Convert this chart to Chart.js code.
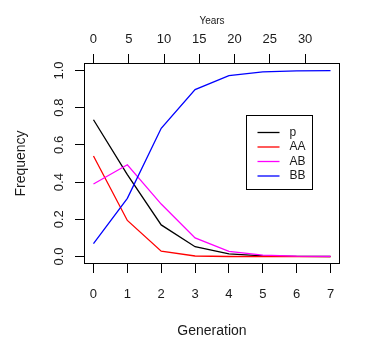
<!DOCTYPE html>
<html>
<head>
<meta charset="utf-8">
<script src="https://cdn.jsdelivr.net/npm/chart.js@4/dist/chart.umd.min.js"></script>
<style>
  html, body { margin: 0; padding: 0; background: #ffffff; }
  #wrap { width: 368px; height: 357px; position: relative; }
</style>
</head>
<body>
<div id="wrap"><canvas id="c"></canvas></div>
<script>
// ---- data ----
const generations = [0, 1, 2, 3, 4, 5, 6, 7];
const yearTicks = [0, 5, 10, 15, 20, 25, 30];
const freqTicks = [0, 0.2, 0.4, 0.6, 0.8, 1.0];
const seriesNames = ["p", "AA", "AB", "BB"];
const pFreq  = [0.735, 0.44, 0.17, 0.053, 0.014, 0.004, 0.001, 0.0003];
const aaFreq = [0.54, 0.194, 0.029, 0.003, 0.0002, 0.0, 0.0, 0.0];
const abFreq = [0.39, 0.493, 0.282, 0.100, 0.028, 0.008, 0.002, 0.0006];
const bbFreq = [0.07, 0.313, 0.689, 0.897, 0.972, 0.992, 0.998, 0.9994];
const yearsPerGeneration = 4.8;

// ---- styling ----
const FONT = '"Liberation Sans", Arial, Helvetica, sans-serif';
const INK = '#1a1a1a';
const colors = ['#000000', '#ff0000', '#ff00ff', '#0000ff'];
const xMin = -0.28, xMax = 7.28;   // R-style 4% extension
const yMin = -0.04, yMax = 1.04;

const allSeries = [pFreq, aaFreq, abFreq, bbFreq];
const datasets = allSeries.map((vals, i) => ({
  label: seriesNames[i],
  data: generations.map((g, j) => ({ x: g, y: vals[j] })),
  borderColor: colors[i],
  backgroundColor: colors[i],
  borderWidth: 1.3,
  pointRadius: 0,
  tension: 0,
  fill: false,
  order: allSeries.length - i,
  xAxisID: 'x',
  yAxisID: 'y'
}));

const boxPlugin = {
  id: 'rbox',
  afterDraw(chart) {
    const { ctx, chartArea: a, scales } = chart;
    ctx.save();
    ctx.strokeStyle = '#000';
    ctx.lineWidth = 1;
    const l = Math.round(a.left) + 0.5, t = Math.round(a.top) + 0.5;
    const r = Math.round(a.right) - 0.5, b = Math.round(a.bottom) - 0.5;
    ctx.strokeRect(l, t, r - l, b - t);

    // legend, anchored in data coordinates
    const lx = Math.round(scales.x.getPixelForValue(4.5)) + 0.5;
    const ty = Math.round(scales.y.getPixelForValue(0.762)) + 0.5;
    const w = 66, h = 74;
    ctx.strokeRect(lx, ty, w, h);
    ctx.font = '12px ' + FONT;
    ctx.textBaseline = 'middle';
    ctx.textAlign = 'left';
    chart.data.datasets.forEach((ds, i) => {
      const yy = ty + 17 + i * 14.5;
      ctx.strokeStyle = ds.borderColor;
      ctx.lineWidth = 1.3;
      ctx.beginPath();
      ctx.moveTo(lx + 11, yy);
      ctx.lineTo(lx + 33, yy);
      ctx.stroke();
      ctx.fillStyle = INK;
      ctx.fillText(ds.label, lx + 43, yy);
    });
    ctx.restore();
  }
};

const tickGrid = {
  drawOnChartArea: false,
  drawTicks: true,
  tickLength: 9,
  color: '#000',
  tickColor: '#000',
  lineWidth: 1
};

new Chart(document.getElementById('c'), {
  type: 'line',
  data: { datasets },
  options: {
    responsive: true,
    maintainAspectRatio: false,
    animation: false,
    layout: { padding: { left: 0, right: 28, top: 0, bottom: 0 } },
    plugins: { legend: { display: false }, tooltip: { enabled: false } },
    scales: {
      x: {
        type: 'linear',
        position: 'bottom',
        min: xMin, max: xMax,
        afterBuildTicks: s => { s.ticks = generations.map(v => ({ value: v })); },
        afterFit: s => { s.height = 93; },
        grid: tickGrid,
        border: { display: false },
        ticks: { font: { family: FONT, size: 13 }, color: INK, padding: 14, maxRotation: 0, autoSkip: false },
        title: { display: true, text: 'Generation', font: { family: FONT, size: 14 }, color: INK, padding: { top: 0, bottom: 17 } }
      },
      xTop: {
        type: 'linear',
        position: 'top',
        min: xMin * yearsPerGeneration, max: xMax * yearsPerGeneration,
        afterBuildTicks: s => { s.ticks = yearTicks.map(v => ({ value: v })); },
        afterFit: s => { s.height = 63; },
        grid: tickGrid,
        border: { display: false },
        ticks: { font: { family: FONT, size: 13 }, color: INK, padding: 7, maxRotation: 0, autoSkip: false },
        title: { display: true, text: 'Years', font: { family: FONT, size: 10 }, color: INK, padding: { top: 15, bottom: 0 } }
      },
      y: {
        type: 'linear',
        position: 'left',
        min: yMin, max: yMax,
        afterBuildTicks: s => { s.ticks = freqTicks.map(v => ({ value: v })); },
        afterFit: s => { s.width = 84; },
        grid: tickGrid,
        border: { display: false },
        ticks: {
          font: { family: FONT, size: 13 }, color: INK, padding: 7,
          minRotation: 90, maxRotation: 90, crossAlign: 'center', autoSkip: false,
          callback: v => Number(v).toFixed(1)
        },
        title: { display: true, text: 'Frequency', font: { family: FONT, size: 14 }, color: INK, padding: { top: 13, bottom: 0 } }
      }
    }
  },
  plugins: [boxPlugin]
});
</script>
</body>
</html>
